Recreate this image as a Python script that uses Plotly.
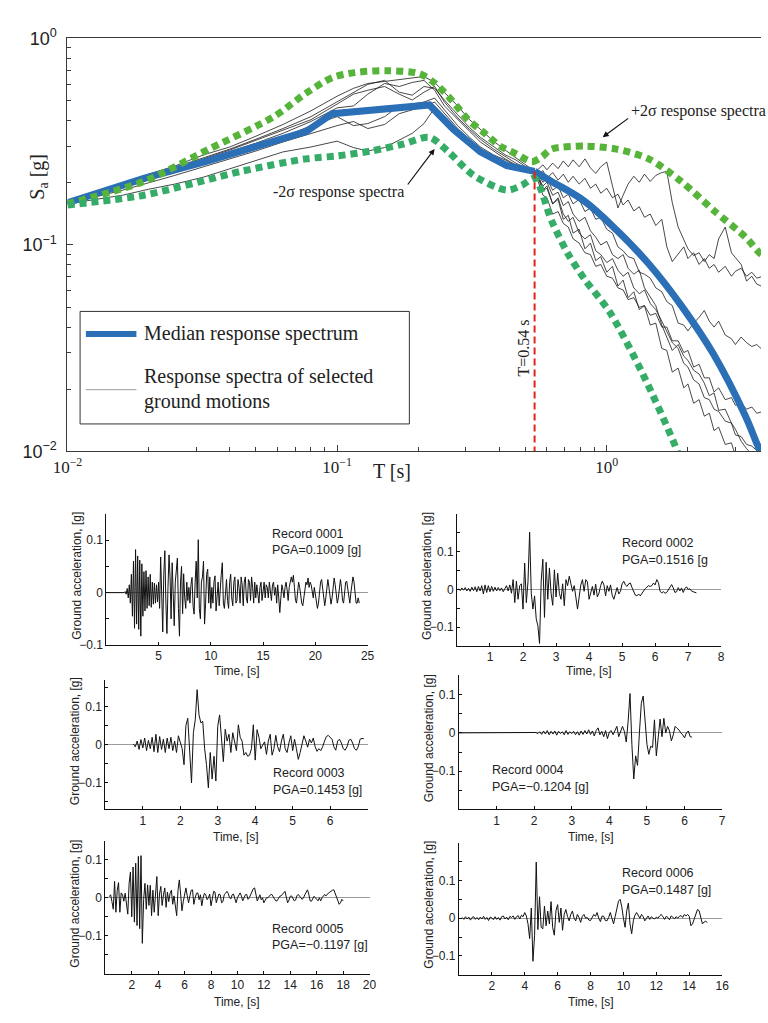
import plotly.graph_objects as go

W, H = 768, 1023


def px(x):
    return x / W


def py(y):
    return 1 - y / H


SERIF = "Liberation Serif"
SANS = "Liberation Sans"

# ---------------- response spectra (T in s, Sa in g) ----------------
T_MEDIAN = [0.01, 0.0192, 0.0335, 0.0583, 0.0767, 0.096, 0.149, 0.22, 0.27, 0.34,
            0.426, 0.54, 0.624, 0.826, 1.087, 1.43, 1.89, 2.49, 3.27, 3.70, 4.0]
SA_MEDIAN = [0.160, 0.210, 0.256, 0.314, 0.354, 0.432, 0.455, 0.476, 0.362, 0.282,
             0.242, 0.227, 0.203, 0.163, 0.118, 0.081, 0.0508, 0.0295, 0.0148, 0.0101, 0.0085]

T_PLUS = [0.01, 0.0192, 0.0335, 0.0583, 0.0767, 0.096, 0.116, 0.152, 0.202, 0.231,
          0.266, 0.306, 0.349, 0.402, 0.462, 0.528, 0.574, 0.624, 0.826, 1.087,
          1.43, 1.89, 2.49, 3.27, 3.70, 4.0]
SA_PLUS = [0.158, 0.203, 0.291, 0.418, 0.543, 0.646, 0.683, 0.698, 0.675, 0.605,
           0.503, 0.404, 0.351, 0.301, 0.276, 0.253, 0.267, 0.291, 0.301, 0.291,
           0.261, 0.203, 0.147, 0.109, 0.091, 0.085]

T_MINUS = [0.01, 0.0192, 0.044, 0.0767, 0.101, 0.134, 0.176, 0.22, 0.259, 0.321,
           0.426, 0.486, 0.54, 0.624, 0.718, 0.826, 1.026, 1.36, 1.79, 1.94]
SA_MINUS = [0.156, 0.174, 0.227, 0.261, 0.270, 0.285, 0.308, 0.332, 0.282, 0.217,
            0.184, 0.195, 0.210, 0.131, 0.0906, 0.0684, 0.0472, 0.0237, 0.0107, 0.0080]

T_STAR = 0.54
SA_STAR = 0.227

# periods at which the selected spectra are tabulated
T_GRID = [0.01, 0.0125, 0.016, 0.02, 0.025, 0.032, 0.04, 0.05, 0.063, 0.08,
          0.1, 0.115, 0.13, 0.15, 0.17, 0.19, 0.21, 0.23, 0.25, 0.28,
          0.31, 0.34, 0.38, 0.42, 0.46, 0.5, 0.54,
          0.56, 0.58, 0.6, 0.63, 0.66, 0.69, 0.72, 0.75, 0.79, 0.83,
          0.87, 0.91, 0.95, 1.0, 1.05, 1.1, 1.15, 1.2, 1.26, 1.32,
          1.38, 1.45, 1.52, 1.6, 1.67, 1.75, 1.84, 1.93, 2.0, 2.1,
          2.2, 2.3, 2.4, 2.5, 2.6, 2.75, 2.9, 3.0, 3.15, 3.3,
          3.45, 3.6, 3.8]

SA_GM1 = [0.160, 0.176, 0.197, 0.220, 0.241, 0.273, 0.298, 0.336, 0.383, 0.446,
          0.525, 0.573, 0.605, 0.619, 0.633, 0.647, 0.654, 0.612, 0.549, 0.471,
          0.404, 0.362, 0.318, 0.288, 0.264, 0.244, 0.227,
          0.234, 0.244, 0.231, 0.249, 0.234, 0.255, 0.239, 0.258, 0.239, 0.261,
          0.236, 0.222, 0.239, 0.252, 0.193, 0.151, 0.174, 0.197, 0.215, 0.201,
          0.220, 0.203, 0.217, 0.224, 0.227, 0.160, 0.122, 0.107, 0.0957, 0.0887,
          0.0916, 0.0830, 0.0897, 0.0858, 0.107, 0.122, 0.0916, 0.0868, 0.0804, 0.0668,
          0.0705, 0.0646, 0.0625]
SA_GM2 = [0.160, 0.176, 0.195, 0.215, 0.236, 0.264, 0.291, 0.325, 0.366, 0.418,
          0.492, 0.549, 0.599, 0.626, 0.549, 0.531, 0.585, 0.573, 0.503, 0.427,
          0.370, 0.332, 0.298, 0.273, 0.258, 0.239, 0.227,
          0.220, 0.229, 0.210, 0.224, 0.206, 0.220, 0.201, 0.215, 0.197, 0.210,
          0.188, 0.197, 0.178, 0.188, 0.169, 0.176, 0.156, 0.165, 0.146, 0.153,
          0.136, 0.141, 0.124, 0.133, 0.0978, 0.0830, 0.0897, 0.0978, 0.0858, 0.0916,
          0.0804, 0.0858, 0.0770, 0.0804, 0.0737, 0.0787, 0.0705, 0.0745, 0.0770, 0.0705,
          0.0737, 0.0690, 0.0705]
SA_GM3 = [0.160, 0.174, 0.192, 0.210, 0.231, 0.258, 0.282, 0.311, 0.347, 0.396,
          0.461, 0.471, 0.537, 0.605, 0.585, 0.612, 0.626, 0.561, 0.471, 0.404,
          0.355, 0.315, 0.285, 0.261, 0.244, 0.234, 0.227,
          0.217, 0.201, 0.210, 0.184, 0.193, 0.169, 0.176, 0.158, 0.166, 0.145,
          0.151, 0.133, 0.136, 0.119, 0.114, 0.0978, 0.0936, 0.0877, 0.0858, 0.0737,
          0.0721, 0.0690, 0.0619, 0.0593, 0.0531, 0.0508, 0.0418, 0.0409, 0.0383, 0.0418,
          0.0446, 0.0481, 0.0427, 0.0400, 0.0427, 0.0366, 0.0351, 0.0329, 0.0358, 0.0336,
          0.0322, 0.0329, 0.0308]
SA_GM4 = [0.160, 0.172, 0.188, 0.206, 0.227, 0.249, 0.273, 0.298, 0.332, 0.378,
          0.418, 0.378, 0.387, 0.418, 0.471, 0.481, 0.492, 0.514, 0.451, 0.378,
          0.332, 0.298, 0.273, 0.258, 0.241, 0.231, 0.227,
          0.210, 0.193, 0.201, 0.174, 0.180, 0.155, 0.162, 0.141, 0.130, 0.136,
          0.117, 0.109, 0.0999, 0.104, 0.0897, 0.0858, 0.0897, 0.0770, 0.0721, 0.0754,
          0.0619, 0.0555, 0.0508, 0.0409, 0.0358, 0.0308, 0.0329, 0.0289, 0.0276, 0.0247,
          0.0237, 0.0214, 0.0186, 0.0192, 0.0158, 0.0160, 0.0137, 0.0128, 0.0112, 0.0103,
          0.0097, 0.0093, 0.0089]
SA_GM5 = [0.158, 0.166, 0.174, 0.186, 0.197, 0.213, 0.234, 0.256, 0.282, 0.298,
          0.318, 0.296, 0.285, 0.296, 0.321, 0.347, 0.387, 0.461, 0.404, 0.347,
          0.304, 0.280, 0.258, 0.244, 0.234, 0.227, 0.227,
          0.206, 0.184, 0.193, 0.158, 0.169, 0.141, 0.130, 0.136, 0.114, 0.107,
          0.112, 0.0936, 0.0897, 0.0821, 0.0858, 0.0754, 0.0705, 0.0737, 0.0619, 0.0580,
          0.0605, 0.0520, 0.0486, 0.0427, 0.0383, 0.0336, 0.0315, 0.0267, 0.0256, 0.0222,
          0.0212, 0.0182, 0.0178, 0.0160, 0.0156, 0.0140, 0.0137, 0.0120, 0.0118, 0.0108,
          0.0106, 0.0101, 0.0099]
SA_GM6 = [0.160, 0.174, 0.192, 0.213, 0.234, 0.261, 0.288, 0.321, 0.358, 0.404,
          0.481, 0.537, 0.561, 0.585, 0.537, 0.503, 0.549, 0.585, 0.492, 0.413,
          0.362, 0.325, 0.291, 0.267, 0.249, 0.236, 0.227,
          0.215, 0.184, 0.188, 0.158, 0.166, 0.133, 0.139, 0.114, 0.119, 0.0957,
          0.102, 0.0839, 0.0877, 0.0737, 0.0787, 0.0632, 0.0675, 0.0555, 0.0593, 0.0486,
          0.0508, 0.0409, 0.0418, 0.0315, 0.0308, 0.0242, 0.0253, 0.0203, 0.0212, 0.0171,
          0.0178, 0.0148, 0.0153, 0.0126, 0.0131, 0.0108, 0.0110, 0.0095, 0.0097, 0.0087,
          0.0089, 0.0080, 0.0081]
SA_GM7 = [0.160, 0.170, 0.184, 0.199, 0.217, 0.239, 0.261, 0.285, 0.315, 0.347,
          0.378, 0.396, 0.366, 0.383, 0.432, 0.451, 0.466, 0.492, 0.432, 0.366,
          0.325, 0.291, 0.267, 0.249, 0.239, 0.229, 0.227,
          0.199, 0.174, 0.169, 0.141, 0.145, 0.127, 0.122, 0.107, 0.102, 0.0916,
          0.0897, 0.0787, 0.0804, 0.0705, 0.0690, 0.0619, 0.0605, 0.0543, 0.0555, 0.0498,
          0.0508, 0.0456, 0.0466, 0.0400, 0.0400, 0.0343, 0.0343, 0.0301, 0.0308, 0.0256,
          0.0264, 0.0227, 0.0227, 0.0194, 0.0203, 0.0178, 0.0182, 0.0167, 0.0171, 0.0160,
          0.0164, 0.0153, 0.0156]

SELECTED = [SA_GM1, SA_GM2, SA_GM3, SA_GM4, SA_GM5, SA_GM6, SA_GM7]

# ---------------- ground-motion records (acceleration in g) ----------------
REC1_T0, REC1_DT = 0.0, 0.1
REC1_ACC = [
    0, 0, 0, 0, 0, 0, 0, 0, 0, 0,
    0, 0, 0, 0, 0, 0, 0, 0, 0.002, -0.003,
    0.008, -0.01, 0.015, -0.02, 0.035, -0.045, 0.06, -0.068, 0.082, -0.06,
    0.07, -0.07, 0.062, -0.083, 0.055, -0.045, 0.04, -0.035, 0.042, -0.03,
    0.03, -0.025, 0.035, -0.028, 0.02, -0.022, 0.018, -0.02, 0.015, -0.018,
    0.02, -0.03, 0.068, -0.04, -0.075, 0.035, 0.08, -0.02, -0.078, 0.01,
    0.072, 0.03, -0.05, 0.057, -0.02, -0.063, 0.02, 0.045, 0.066, -0.03,
    -0.083, 0.02, 0.05, -0.04, 0.036, -0.01, -0.03, 0.02, -0.015, 0.01,
    -0.02, 0.015, 0.029, -0.025, -0.041, 0.02, 0.06, -0.01, 0.1009, -0.03,
    -0.05, 0.02, 0.03, 0.06, -0.06, -0.02, 0.035, 0.045, -0.02, 0.03,
    -0.03, 0.01, -0.02, 0.02, 0.032, -0.035, -0.01, 0.02, -0.025, 0.015,
    0.035, 0.057, -0.02, -0.03, 0.01, 0.025, -0.015, -0.03, 0.02, 0.035,
    -0.01, -0.025, 0.02, 0.03, -0.02, -0.015, 0.025, 0.01, -0.02, 0.03,
    0.015, -0.025, 0.02, 0.03, -0.01, -0.02, 0.025, 0.02, -0.015, 0.03,
    0.01, -0.02, 0.02, -0.01, 0.015, -0.005, -0.02, 0.01, 0.02, -0.015,
    0.01, 0.02, -0.01, 0.015, 0.01, -0.01, 0.02, 0.005, -0.015, 0.015,
    0.02, -0.005, 0.01, -0.02, 0.015, -0.01, -0.038, -0.01, 0.015, 0.005,
    -0.01, 0.01, 0.02, 0.005, -0.015, 0.01, 0.025, 0.03, 0.02, 0.033,
    0.01, -0.015, -0.02, 0.005, 0.02, 0.01, -0.01, -0.02, -0.025, -0.01,
    0.005, 0.02, 0.015, 0.028, 0.01, 0.02, 0.015, 0.005, -0.01, 0.01,
    -0.005, -0.02, -0.03, -0.02, 0.0, 0.02, 0.025, 0.01, -0.015, -0.025,
    -0.01, 0.015, 0.025, 0.01, -0.01, -0.022, -0.01, 0.015, 0.028, 0.015,
    -0.01, -0.02, -0.01, 0.015, 0.025, 0.01, -0.015, -0.02, 0.0, 0.02,
    0.022, 0.005, -0.015, -0.02, 0.0, 0.02, 0.03, 0.02, -0.005, -0.02,
    -0.02, -0.01, -0.02,
]

REC2_T0, REC2_DT = 0.05, 0.05
REC2_ACC = [
    0.002, -0.003, 0.004, -0.002, 0.005, -0.004, 0.003, -0.005, 0.006, -0.003,
    0.007, -0.006, 0.008, -0.004, 0.01, -0.012, 0.012, -0.008, 0.01, -0.006,
    0.008, -0.005, 0.006, -0.004, 0.005, -0.003, 0.004, -0.006, 0.002, 0.01,
    -0.004, 0.012, -0.01, 0.026, -0.035, 0.022, -0.026, 0.01, 0.015, -0.052,
    0.07, -0.035, 0.02, 0.1516, -0.01, -0.052, -0.017, -0.078, -0.096, -0.143,
    0.022, 0.08, -0.074, 0.072, -0.026, 0.057, -0.01, -0.042, 0.052, -0.02,
    0.043, -0.01, -0.026, 0.015, -0.043, 0.026, 0.01, 0.035, 0.015, -0.005,
    0.01, -0.026, -0.052, -0.02, 0.012, 0.026, -0.005, 0.026, 0.02, -0.026,
    -0.01, 0.008, -0.015, 0.014, -0.02, -0.01, 0.01, 0.022, 0.012, -0.017,
    0.01, -0.005, 0.012, -0.015, -0.026, -0.008, 0.005, -0.012, -0.005, 0.015,
    0.022, 0.012, 0.008, 0.015, 0.017, 0.005, -0.008, -0.015, -0.017, -0.012,
    -0.017, -0.01, -0.005, 0.002, 0.006, 0.01, 0.008, 0.01, 0.017, 0.012,
    0.026, 0.018, -0.005, -0.009, -0.006, -0.01, -0.008, 0.0, 0.008, 0.013,
    0.004, -0.008, -0.006, 0.005, -0.004, 0.004, -0.008, 0.002, 0.007, 0.0,
    0.002, -0.004, -0.006, -0.008, -0.009,
]

REC3_T0, REC3_DT = 0.75, 0.05
REC3_ACC = [
    0.002, -0.005, 0.01, -0.012, 0.014, -0.008, 0.018, -0.015, 0.012, -0.01,
    0.02, -0.018, 0.028, -0.02, 0.022, -0.012, 0.015, -0.02, 0.018, -0.01,
    0.02, -0.015, 0.01, -0.02, 0.024, 0.005, -0.01, -0.052, 0.051, 0.07,
    -0.02, -0.1, 0.032, 0.066, 0.1453, 0.079, 0.058, 0.062, -0.01, -0.052,
    -0.113, -0.02, -0.09, -0.03, -0.095, 0.049, 0.079, 0.024, -0.044, 0.041,
    0.01, 0.028, -0.02, 0.032, 0.006, -0.015, 0.053, 0.02, 0.01, -0.027,
    -0.02, -0.03, -0.027, -0.01, 0.053, -0.04, 0.04, 0.02, -0.01, 0.0,
    0.008, -0.025, 0.01, 0.028, -0.027, -0.01, 0.025, -0.005, -0.018, 0.01,
    0.028, -0.01, -0.02, 0.005, 0.024, -0.015, 0.015, -0.01, -0.038, -0.02,
    0.005, 0.024, 0.01, -0.006, 0.015, 0.005, 0.018, -0.005, -0.017, -0.01,
    -0.015, -0.005, 0.01, 0.022, 0.025, 0.02, 0.015, -0.005, -0.014, 0.01,
    0.015, 0.005, -0.01, -0.014, -0.005, 0.012, 0.015, 0.005, -0.01, -0.014,
    -0.005, 0.015, 0.017, 0.016,
]

REC4_T0, REC4_DT = 0.0, 0.05
REC4_ACC = [
    0, 0, 0, 0, 0, 0, 0, 0, 0, 0,
    0, 0, 0, 0, 0, 0, 0, 0, 0, 0,
    0, 0, 0, 0, 0, 0, 0, 0, 0, 0,
    0, 0, 0, 0, 0, 0, 0, 0, 0, 0,
    0, 0.001, -0.002, 0.003, -0.004, 0.005, -0.003, 0.006, -0.005, 0.004,
    -0.003, 0.005, -0.006, 0.004, -0.002, 0.003, -0.005, 0.006, -0.004, 0.003,
    -0.002, 0.004, -0.005, 0.003, -0.006, 0.005, -0.004, 0.006, -0.003, 0.008,
    -0.004, 0.005, -0.008, 0.006, 0.013, -0.005, 0.004, -0.01, 0.006, -0.015,
    0.002, 0.006, -0.005, 0.008, 0.017, -0.01, 0.005, 0.017, 0.004, -0.024,
    0.03, 0.1026, -0.03, -0.1204, -0.06, -0.085, 0.0, 0.077, 0.096, 0.04,
    -0.03, -0.056, -0.035, -0.038, 0.034, -0.06, 0.0, 0.036, -0.01, 0.038,
    0.0, 0.017, 0.005, -0.021, -0.005, 0.017, 0.012, 0.008, 0.0, -0.005,
    -0.013, 0.0, 0.005, -0.01, -0.011,
]

REC5_T0, REC5_DT = 0.3, 0.1
REC5_ACC = [
    0.003, 0.008, -0.01, -0.03, 0.043, -0.038, 0.02, 0.04, -0.038, 0.013,
    0.008, -0.009, 0.012, -0.02, -0.043, 0.038, 0.068, -0.05, 0.081, -0.064,
    0.091, -0.073, 0.109, -0.081, 0.111, -0.1197, -0.004, 0.038, -0.03, 0.034,
    -0.02, 0.033, -0.047, 0.02, -0.038, 0.01, 0.056, -0.047, 0.01, 0.03,
    -0.02, 0.008, 0.026, -0.025, 0.015, -0.01, 0.012, 0.02, -0.017, 0.005,
    -0.03, -0.047, 0.02, 0.047, 0.01, -0.034, -0.01, 0.015, 0.026, 0.005,
    -0.013, 0.005, 0.02, 0.021, -0.017, 0.0, 0.012, 0.013, -0.005, 0.008,
    -0.021, 0.0, 0.012, 0.008, -0.005, 0.0, 0.01, -0.021, 0.0, 0.017,
    0.015, -0.013, 0.0, 0.01, 0.008, -0.013, -0.01, 0.008, 0.012, 0.017,
    0.012, 0.0, -0.003, 0.008, 0.01, -0.005, -0.013, 0.0, 0.008, 0.013,
    0.005, -0.008, 0.0, 0.008, 0.009, -0.004, 0.0, 0.008, 0.015, 0.024,
    0.026, 0.01, -0.008, 0.0, 0.008, -0.005, 0.0, -0.013, -0.005, 0.0,
    0.0, 0.005, 0.008, 0.009, 0.003, -0.005, -0.008, -0.008, 0.0, 0.004,
    0.005, 0.008, 0.013, 0.017, 0.0, -0.013, -0.006, 0.004, 0.005, 0.0,
    -0.008, -0.006, 0.005, 0.009, 0.003, 0.0, -0.004, 0.0, 0.008, 0.015,
    0.021, 0.01, -0.008, -0.009, 0.0, 0.004, 0.0, -0.004, -0.008, 0.0,
    -0.008, 0.0, 0.006, 0.009, 0.005, 0.01, 0.013, 0.015, 0.018, 0.02,
    0.021, 0.012, 0.0, -0.008, -0.017, -0.013, -0.004, -0.008,
]

REC6_T0, REC6_DT = 0.2, 0.1
REC6_ACC = [
    0.002, -0.003, 0.004, -0.002, 0.003, -0.005, 0.002, 0.004, -0.003, 0.002,
    -0.004, 0.003, -0.002, 0.005, -0.003, 0.002, -0.006, 0.003, 0.001, -0.004,
    0.004, -0.003, 0.002, -0.005, 0.004, 0.006, -0.002, 0.003, -0.004, 0.005,
    0.002, 0.006, -0.003, 0.004, 0.007, -0.002, 0.008, 0.004, 0.015, 0.006,
    -0.015, -0.054, 0.027, -0.114, -0.045, 0.1487, -0.03, 0.057, -0.024, -0.028,
    0.032, -0.02, 0.019, -0.015, 0.044, -0.025, -0.045, 0.02, 0.036, -0.011,
    0.027, -0.032, 0.01, 0.023, 0.005, -0.007, 0.01, 0.019, 0.0, -0.007,
    0.01, 0.002, -0.011, 0.005, 0.01, 0.0, 0.002, -0.005, -0.006, 0.003,
    0.01, 0.005, 0.015, 0.0, -0.009, 0.006, 0.005, -0.006, -0.007, 0.002,
    0.015, 0.0, -0.015, 0.005, 0.025, 0.045, 0.05, 0.03, 0.0, -0.024,
    0.02, 0.04, -0.015, -0.041, -0.007, 0.008, 0.015, 0.006, 0.0, 0.01,
    0.004, -0.007, 0.0, 0.006, -0.003, 0.004, 0.0, -0.002, 0.003, 0.0,
    0.006, 0.01, 0.004, -0.003, 0.005, 0.002, -0.004, 0.006, 0.003, -0.002,
    0.004, 0.0, 0.005, 0.007, 0.002, 0.01, 0.006, 0.01, 0.005, -0.02,
    -0.015, 0.0, 0.008, 0.023, 0.02, 0.0, -0.015, -0.01, -0.008, -0.011,
]

RECORDS = [
    ("0001", "PGA=0.1009 [g]", REC1_T0, REC1_DT, REC1_ACC),
    ("0002", "PGA=0.1516 [g", REC2_T0, REC2_DT, REC2_ACC),
    ("0003", "PGA=0.1453 [g]", REC3_T0, REC3_DT, REC3_ACC),
    ("0004", "PGA=\u22120.1204 [g]", REC4_T0, REC4_DT, REC4_ACC),
    ("0005", "PGA=\u22120.1197 [g]", REC5_T0, REC5_DT, REC5_ACC),
    ("0006", "PGA=0.1487 [g]", REC6_T0, REC6_DT, REC6_ACC),
]

# panel layout: pixel box (left, top, right, bottom), axis ranges, x ticks,
# record label anchor and the row's x-title height
PANELS = [
    dict(box=(94, 513, 363, 647), xr=[0, 25], yr=[-0.1, 0.15], xt=[5, 10, 15, 20, 25], lab=(263, 533), title_y=673),
    dict(box=(455, 513, 727, 648), xr=[0, 8], yr=[-0.15, 0.2], xt=[1, 2, 3, 4, 5, 6, 7, 8], lab=(623, 543), title_y=673),
    dict(box=(93, 683, 363, 815), xr=[0, 7], yr=[-0.17, 0.17], xt=[1, 2, 3, 4, 5, 6], lab=(264, 778), title_y=843),
    dict(box=(457, 678, 728, 815), xr=[0, 7], yr=[-0.2, 0.15], xt=[1, 2, 3, 4, 5, 6, 7], lab=(489, 775), title_y=843),
    dict(box=(93, 847, 365, 983), xr=[0, 20], yr=[-0.2, 0.15], xt=[2, 4, 6, 8, 10, 12, 14, 16, 18, 20], lab=(263, 937), title_y=1012),
    dict(box=(457, 849, 728, 984), xr=[0, 16], yr=[-0.15, 0.2], xt=[2, 4, 6, 8, 10, 12, 14, 16], lab=(623, 880), title_y=1012),
]

BLUE = "#2b6fb6"
GREEN_PLUS = "#56b43a"
GREEN_MINUS = "#35ad68"

fig = go.Figure()

# selected spectra (thin black)
for sa in SELECTED:
    fig.add_trace(go.Scatter(x=T_GRID, y=sa, mode="lines",
                             line=dict(color="#1a1a1a", width=0.8),
                             showlegend=False, hoverinfo="skip"))

# median: straight segments up to the conditioning period, smooth beyond it
k_star = T_MEDIAN.index(T_STAR)
fig.add_trace(go.Scatter(x=T_MEDIAN[:k_star + 1], y=SA_MEDIAN[:k_star + 1], mode="lines",
                         line=dict(color=BLUE, width=7), showlegend=False))
fig.add_trace(go.Scatter(x=T_MEDIAN[k_star:], y=SA_MEDIAN[k_star:], mode="lines",
                         line_shape="spline",
                         line=dict(color=BLUE, width=7, smoothing=1.0), showlegend=False))

# +/-2 sigma spectra
fig.add_trace(go.Scatter(x=T_PLUS, y=SA_PLUS, mode="lines", line_shape="spline",
                         line=dict(color=GREEN_PLUS, width=7, dash="7px,5px", smoothing=0.8),
                         showlegend=False))
fig.add_trace(go.Scatter(x=T_MINUS, y=SA_MINUS, mode="lines", line_shape="spline",
                         line=dict(color=GREEN_MINUS, width=7, dash="7px,5px", smoothing=0.8),
                         showlegend=False))

# conditioning period
fig.add_trace(go.Scatter(x=[T_STAR, T_STAR], y=[SA_STAR, 0.01], mode="lines",
                         line=dict(color="#e2231a", width=2, dash="7px,4px"), showlegend=False))

minor_vals = [0.02, 0.03, 0.04, 0.05, 0.06, 0.07, 0.08, 0.09,
              0.2, 0.3, 0.4, 0.5, 0.6, 0.7, 0.8, 0.9, 2, 3]

layout = dict(
    width=W, height=H,
    margin=dict(l=0, r=0, t=0, b=0),
    paper_bgcolor="white", plot_bgcolor="white",
    showlegend=False,
    xaxis=dict(type="log", range=[-2, 0.572], domain=[px(54), 1.0], anchor="y",
               showline=True, linecolor="#3a3a3a", linewidth=1, mirror=True,
               showgrid=False, zeroline=False,
               ticks="inside", ticklen=6, tickcolor="#3a3a3a",
               tickmode="array", tickvals=[0.01, 0.1, 1],
               ticktext=["10<sup>\u22122</sup>", "10<sup>\u22121</sup>", "10<sup>0</sup>"],
               tickfont=dict(family=SERIF, size=17, color="#222"),
               minor=dict(tickmode="array", tickvals=minor_vals, ticks="inside",
                          ticklen=4, tickcolor="#3a3a3a")),
    yaxis=dict(type="log", range=[-2, 0], domain=[py(449), py(27)], anchor="x",
               showline=True, linecolor="#3a3a3a", linewidth=1,
               showgrid=False, zeroline=False,
               ticks="inside", ticklen=6, tickcolor="#3a3a3a",
               ticklabelstandoff=6,
               tickmode="array", tickvals=[0.01, 0.1, 1],
               ticktext=["10<sup>\u22122</sup>", "10<sup>\u22121</sup>", "10<sup>0</sup>"],
               tickfont=dict(family=SANS, size=18, color="#222"),
               minor=dict(tickmode="array", tickvals=minor_vals, ticks="inside",
                          ticklen=4, tickcolor="#3a3a3a")),
)

annotations = []
shapes = []


def label(x, y, text, size, family=SANS, xanchor="center", angle=0):
    return dict(x=px(x), y=py(y), xref="paper", yref="paper", text=text, showarrow=False,
                xanchor=xanchor, yanchor="middle", textangle=angle,
                font=dict(family=family, size=size, color="#222"))


for i, (panel, rec) in enumerate(zip(PANELS, RECORDS)):
    k = i + 2
    name, pga, t0, dt, acc = rec
    times = [t0 + j * dt for j in range(len(acc))]
    fig.add_trace(go.Scatter(x=times, y=acc, mode="lines", xaxis=f"x{k}", yaxis=f"y{k}",
                             line=dict(color="#111", width=1), showlegend=False))
    l, t, r, b = panel["box"]
    y_lo, y_hi = panel["yr"]
    yt = [v / 100 for v in range(-20, 21, 5) if y_lo - 1e-9 <= v / 100 <= y_hi + 1e-9]
    ytxt = []
    for v in yt:
        if abs(v - 0.1) < 1e-9:
            ytxt.append("0.1")
        elif abs(v) < 1e-9:
            ytxt.append("0")
        elif abs(v + 0.1) < 1e-9:
            ytxt.append("\u22120.1")
        else:
            ytxt.append("")
    layout[f"xaxis{k}"] = dict(
        domain=[px(l), px(r)], anchor=f"y{k}", range=panel["xr"],
        showline=True, linecolor="#111", linewidth=1, showgrid=False, zeroline=False,
        ticks="inside", ticklen=3, tickcolor="#111",
        tickmode="array", tickvals=panel["xt"], ticktext=[str(v) for v in panel["xt"]],
        tickfont=dict(family=SANS, size=12, color="#222"))
    layout[f"yaxis{k}"] = dict(
        domain=[py(b), py(t)], anchor=f"x{k}", range=panel["yr"],
        showline=True, linecolor="#111", linewidth=1, showgrid=False,
        zeroline=True, zerolinecolor="#9a9a9a", zerolinewidth=1,
        ticks="inside", ticklen=3, tickcolor="#111",
        tickmode="array", tickvals=yt, ticktext=ytxt,
        tickfont=dict(family=SANS, size=12, color="#222"))
    lx, ly = panel["lab"]
    annotations.append(label(lx, ly, f"Record {name}", 12.5, xanchor="left"))
    annotations.append(label(lx, ly + 17, pga, 12.5, xanchor="left"))
    annotations.append(label((l + r) / 2, panel["title_y"], "Time, [s]", 12))
    annotations.append(label(l - 31, (t + b) / 2 - 4, "Ground acceleration, [g]", 12, angle=-90))

# top panel titles and callouts
annotations += [
    label(24, 168, "S<sub>a</sub> [g]", 20, family=SERIF, angle=-90),
    label(388, 469, "T [s]", 20, family=SERIF),
    label(333, 184, "-2\u03c3 response spectra", 16, family=SERIF),
    label(632, 101, "+2\u03c3 response spectra", 16, family=SERIF, xanchor="left"),
    label(524, 343, "T=0.54 s", 16, family=SERIF, angle=-90),
    label(131, 329, "Median response spectrum", 20, family=SERIF, xanchor="left"),
    label(131, 372, "Response spectra of selected", 20, family=SERIF, xanchor="left"),
    label(131, 398, "ground motions", 20, family=SERIF, xanchor="left"),
    dict(x=px(432), y=py(140), xref="paper", yref="paper", text="", showarrow=True,
         ax=-28, ay=37, arrowhead=2, arrowsize=1, arrowwidth=1.2, arrowcolor="#111"),
    dict(x=px(605), y=py(128), xref="paper", yref="paper", text="", showarrow=True,
         ax=27, ay=-20, arrowhead=2, arrowsize=1, arrowwidth=1.2, arrowcolor="#111"),
]

# legend frame and samples
shapes += [
    dict(type="rect", xref="paper", yref="paper", x0=px(67), x1=px(406), y0=py(421), y1=py(306),
         line=dict(color="#333", width=1), fillcolor="white", layer="below"),
    dict(type="line", xref="paper", yref="paper", x0=px(73), x1=px(125), y0=py(329), y1=py(329),
         line=dict(color=BLUE, width=6)),
    dict(type="line", xref="paper", yref="paper", x0=px(73), x1=px(125), y0=py(386), y1=py(386),
         line=dict(color="#9a9a9a", width=1)),
]

layout["annotations"] = annotations
layout["shapes"] = shapes
fig.update_layout(**layout)

fig.write_html("out.html")
